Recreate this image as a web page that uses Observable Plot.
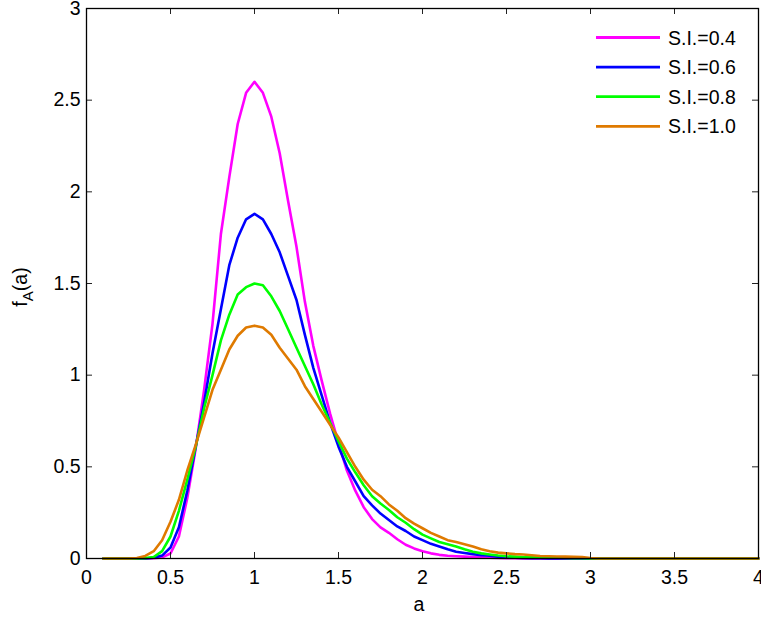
<!DOCTYPE html>
<html>
<head>
<meta charset="utf-8">
<script src="https://cdn.jsdelivr.net/npm/d3@7"></script>
<script src="https://cdn.jsdelivr.net/npm/@observablehq/plot@0.6"></script>
<style>
  html, body { margin: 0; padding: 0; background: #fff; }
  #chart svg { display: block; }
</style>
</head>
<body>
<div id="chart"></div>
<script>
// Sample grid: a = 0.10, 0.15, ..., 4.00
const aGrid = d3.range(79).map(i => +(0.1 + i * 0.05).toFixed(2));

const seriesNames = ["S.I.=0.4", "S.I.=0.6", "S.I.=0.8", "S.I.=1.0"];
const seriesColors = ["#ff00ff", "#0000ff", "#00ff00", "#df7a00"];

const si04 = [
  0, 0, 0, 0, 0, 0, 0.001, 0.006, 0.027, 0.12,
  0.33, 0.60, 0.92, 1.28, 1.77, 2.08, 2.37, 2.54, 2.60, 2.54,
  2.41, 2.21, 1.95, 1.70, 1.40, 1.16, 0.97, 0.79, 0.63, 0.48,
  0.37, 0.28, 0.215, 0.17, 0.14, 0.105, 0.075, 0.055, 0.04, 0.028,
  0.02, 0.015, 0.012, 0.01, 0.008, 0.006, 0.004, 0.003, 0.002, 0.001,
  0, 0, 0, 0, 0, 0, 0, 0, 0, 0,
  0, 0, 0, 0, 0, 0, 0, 0, 0, 0, 0, 0, 0, 0, 0, 0, 0, 0, 0
];
const si06 = [
  0, 0, 0, 0, 0, 0, 0.004, 0.016, 0.06, 0.17,
  0.37, 0.61, 0.85, 1.12, 1.36, 1.60, 1.75, 1.85, 1.88, 1.85,
  1.77, 1.67, 1.54, 1.41, 1.22, 1.04, 0.89, 0.74, 0.61, 0.50,
  0.42, 0.34, 0.29, 0.245, 0.21, 0.175, 0.15, 0.12, 0.10, 0.08,
  0.065, 0.05, 0.037, 0.03, 0.024, 0.018, 0.015, 0.01, 0.005, 0.004,
  0.003, 0.002, 0.001, 0, 0, 0, 0, 0, 0, 0,
  0, 0, 0, 0, 0, 0, 0, 0, 0, 0, 0, 0, 0, 0, 0, 0, 0, 0, 0
];
const si08 = [
  0, 0, 0, 0, 0, 0.002, 0.008, 0.04, 0.12, 0.26,
  0.43, 0.61, 0.82, 1.00, 1.19, 1.33, 1.44, 1.48, 1.50, 1.49,
  1.43, 1.35, 1.25, 1.15, 1.05, 0.95, 0.84, 0.74, 0.64, 0.545,
  0.47, 0.40, 0.34, 0.30, 0.265, 0.225, 0.195, 0.16, 0.13, 0.11,
  0.09, 0.078, 0.065, 0.05, 0.037, 0.028, 0.022, 0.016, 0.012, 0.01,
  0.007, 0.006, 0.005, 0.004, 0.004, 0.003, 0.002, 0.001, 0, 0,
  0, 0, 0, 0, 0, 0, 0, 0, 0, 0, 0, 0, 0, 0, 0, 0, 0, 0, 0
];
const si10 = [
  0, 0, 0, 0, 0.003, 0.014, 0.04, 0.10, 0.20, 0.32,
  0.48, 0.62, 0.77, 0.92, 1.03, 1.14, 1.215, 1.26, 1.27, 1.26,
  1.22, 1.15, 1.09, 1.03, 0.94, 0.87, 0.80, 0.73, 0.66, 0.58,
  0.50, 0.43, 0.375, 0.34, 0.295, 0.26, 0.22, 0.19, 0.165, 0.14,
  0.12, 0.10, 0.09, 0.078, 0.065, 0.05, 0.04, 0.032, 0.028, 0.024,
  0.022, 0.018, 0.014, 0.012, 0.011, 0.01, 0.009, 0.008, 0.003, 0,
  0, 0, 0, 0, 0, 0, 0, 0, 0, 0, 0, 0, 0, 0, 0, 0, 0, 0, 0
];

const xTicks = [0, 0.5, 1, 1.5, 2, 2.5, 3, 3.5, 4];
const yTicks = [0, 0.5, 1, 1.5, 2, 2.5, 3];

const allSeries = [si04, si06, si08, si10];
const rows = allSeries.map(vals => aGrid.map((a, i) => ({a, v: vals[i]})));

const W = 761, H = 617;
const mL = 86, mR = 3, mT = 8, mB = 59;
const frameW = W - mL - mR, frameH = H - mT - mB;
const tickLen = 6;
const font = "'Liberation Sans', Arial, Helvetica, sans-serif";
const fmt = d => String(d);

const svg = Plot.plot({
  width: W,
  height: H,
  marginLeft: mL,
  marginRight: mR,
  marginTop: mT,
  marginBottom: mB,
  style: {fontFamily: font, fontSize: "19.5px", color: "#000", background: "#fff", overflow: "visible"},
  x: {domain: [0, 4]},
  y: {domain: [0, 3]},
  marks: [
    // curves, drawn in legend order so the last one sits on top
    ...rows.map((r, k) => Plot.line(r, {x: "a", y: "v", stroke: seriesColors[k], strokeWidth: 2.6})),
    // inward ticks on all four sides of the box
    Plot.ruleX(xTicks, {x: d => d, insetTop: frameH - tickLen, stroke: "#222", strokeWidth: 1}),
    Plot.ruleX(xTicks, {x: d => d, insetBottom: frameH - tickLen, stroke: "#222", strokeWidth: 1}),
    Plot.ruleY(yTicks, {y: d => d, insetRight: frameW - tickLen, stroke: "#222", strokeWidth: 1}),
    Plot.ruleY(yTicks, {y: d => d, insetLeft: frameW - tickLen, stroke: "#222", strokeWidth: 1}),
    Plot.axisX({ticks: xTicks, tickSize: 0, tickPadding: 12, tickFormat: fmt, label: null}),
    Plot.axisY({ticks: yTicks, tickSize: 0, tickPadding: 6, tickFormat: fmt, label: null}),
    Plot.frame({stroke: "#000", strokeWidth: 1.3})
  ]
});

document.getElementById("chart").appendChild(svg);

const root = d3.select(svg);

// axis titles
root.append("text")
  .attr("x", 419).attr("y", 604)
  .attr("text-anchor", "middle")
  .attr("dominant-baseline", "central")
  .attr("font-family", font).attr("font-size", 19.5)
  .text("a");

const yl = root.append("text")
  .attr("transform", "translate(27,287) rotate(-90)")
  .attr("text-anchor", "middle")
  .attr("font-family", font).attr("font-size", 19.5);
yl.append("tspan").text("f");
yl.append("tspan").attr("font-size", 15).attr("dy", 6).text("A");
yl.append("tspan").attr("dy", -6).text("(a)");

// legend in the upper right of the box
const lg = root.append("g").attr("text-anchor", "start");
seriesNames.forEach((name, k) => {
  const y = 37.5 + k * 29.6;
  lg.append("line")
    .attr("x1", 596).attr("x2", 660).attr("y1", y).attr("y2", y)
    .attr("stroke", seriesColors[k]).attr("stroke-width", 2.8);
  lg.append("text")
    .attr("x", 668).attr("y", y)
    .attr("text-anchor", "start")
    .attr("dominant-baseline", "central")
    .attr("font-family", font).attr("font-size", 19.5)
    .text(name);
});
</script>
</body>
</html>
